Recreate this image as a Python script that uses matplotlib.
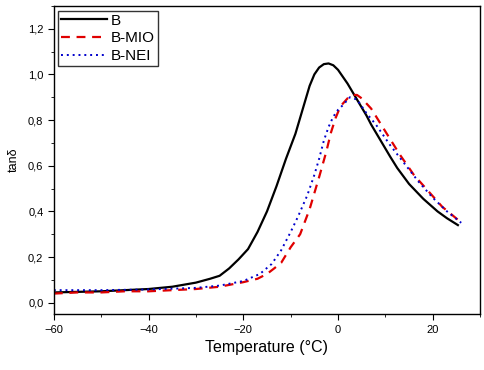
import numpy as np
import matplotlib
matplotlib.use('Agg')
import matplotlib.pyplot as plt
from matplotlib.ticker import MultipleLocator, FuncFormatter

plt.rcParams['font.family'] = ['Liberation Sans', 'DejaVu Sans']

# B
t_b = [-60, -50, -40, -35, -30, -27, -25, -23, -21, -19, -17, -15, -13, -11, -9, -8, -7, -6, -5, -4, -3, -2, -1, 0, 1, 2, 3, 4, 5, 6, 7, 8, 9, 10, 11, 12.5, 15, 18, 21, 23, 25.3]
v_b = [0.045, 0.05, 0.06, 0.07, 0.088, 0.105, 0.118, 0.15, 0.19, 0.235, 0.31, 0.40, 0.51, 0.63, 0.74, 0.81, 0.88, 0.95, 1.0, 1.03, 1.045, 1.048, 1.04, 1.02, 0.99, 0.96, 0.925, 0.89, 0.855, 0.82, 0.78, 0.745, 0.71, 0.675, 0.64, 0.59, 0.52, 0.455, 0.40, 0.37, 0.34]

# B-MIO
t_mio = [-60, -55, -50, -45, -40, -35, -30, -25, -20, -17, -15, -13.5, -12, -10, -8, -6, -4, -2.5, -1.5, -0.5, 0.5, 2, 3, 4, 5, 7, 10, 13, 16, 19, 22, 25.5]
v_mio = [0.04, 0.045, 0.045, 0.05, 0.05, 0.055, 0.06, 0.07, 0.09, 0.105, 0.126, 0.15, 0.175, 0.243, 0.30, 0.41, 0.55, 0.66, 0.745, 0.81, 0.86, 0.895, 0.91, 0.91, 0.895, 0.85, 0.75, 0.65, 0.56, 0.49, 0.42, 0.36]

# B-NEI
t_nei = [-60, -50, -40, -30, -25, -20, -16.5, -14, -12, -10, -8.5, -6.5, -5, -4, -3, -2, -1, 0, 1, 2.5, 4, 6, 8, 11, 14, 17, 20, 23, 26]
v_nei = [0.055, 0.055, 0.058, 0.065, 0.075, 0.095, 0.126, 0.17, 0.23, 0.31, 0.375, 0.47, 0.56, 0.63, 0.71, 0.77, 0.815, 0.845, 0.865, 0.90, 0.89, 0.83, 0.78, 0.69, 0.61, 0.53, 0.46, 0.40, 0.35]

fig = plt.figure(figsize=(4.85, 3.70), dpi=100)
ax = fig.add_axes([0.111, 0.151, 0.879, 0.833])

ax.plot(t_b, v_b, color='black', lw=1.6, label='B')
ax.plot(t_mio, v_mio, color='#e00000', lw=1.6, ls=(0, (4, 3)), label='B-MIO')
ax.plot(t_nei, v_nei, color='#0000cc', lw=1.4, ls=(0, (1, 2)), label='B-NEI')

ax.set_xlim(-60, 30)
ax.set_ylim(-0.05, 1.3)
ax.xaxis.set_major_locator(MultipleLocator(20))
ax.xaxis.set_minor_locator(MultipleLocator(10))
ax.yaxis.set_major_locator(MultipleLocator(0.2))
ax.yaxis.set_minor_locator(MultipleLocator(0.1))
ax.yaxis.set_major_formatter(FuncFormatter(lambda v, p: ('%.1f' % v).replace('.', ',')))
ax.tick_params(which='both', direction='out', labelsize=8)
ax.tick_params(which='major', length=4)
ax.tick_params(which='minor', length=2.5)
for s in ax.spines.values():
    s.set_linewidth(1.0)

ax.set_xlabel('Temperature (°C)', fontsize=11.5)
ax.set_ylabel('tanδ', fontsize=9)
ax.yaxis.set_label_coords(-0.08, 0.5)

leg = ax.legend(loc='upper left', fontsize=11, frameon=True, fancybox=False,
                edgecolor='black', handlelength=3.0, borderpad=0.2,
                labelspacing=0.25, handletextpad=0.25, borderaxespad=0.3)
leg.get_frame().set_linewidth(1.0)

fig.savefig('out.png', dpi=100)
